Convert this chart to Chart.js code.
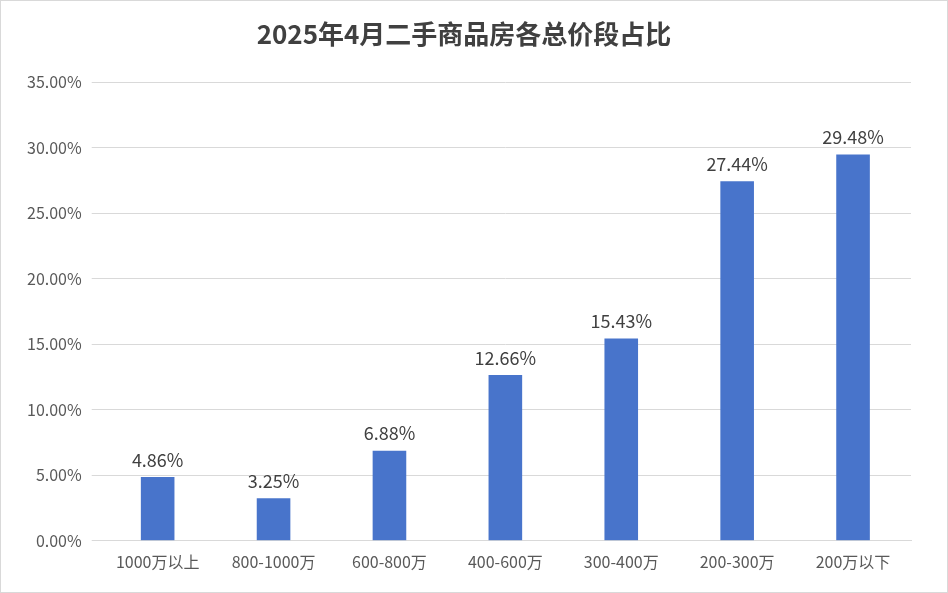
<!DOCTYPE html>
<html>
<head>
<meta charset="utf-8">
<script src="https://cdn.jsdelivr.net/npm/chart.js@4"></script>
<style>
  html, body { margin: 0; padding: 0; background: #fff; }
  #wrap { width: 946px; height: 591px; border: 1px solid #d9d9d9; }
</style>
</head>
<body>
<div id="wrap"><canvas id="c" width="946" height="591"></canvas></div>
<script>
const categories = ['1000万以上', '800-1000万', '600-800万', '400-600万', '300-400万', '200-300万', '200万以下'];
const shares = [4.86, 3.25, 6.88, 12.66, 15.43, 27.44, 29.48];

// étiquettes au-dessus des barres
const barLabels = {
  id: 'barLabels',
  afterDatasetsDraw(chart) {
    const ctx = chart.ctx;
    const meta = chart.getDatasetMeta(0);
    ctx.save();
    ctx.font = '18px "Noto Sans CJK SC", "Noto Sans", sans-serif';
    ctx.fillStyle = '#404040';
    ctx.textAlign = 'center';
    ctx.textBaseline = 'bottom';
    meta.data.forEach((bar, i) => {
      ctx.fillText(shares[i].toFixed(2) + '%', bar.x, bar.y - 8);
    });
    ctx.restore();
  }
};

new Chart(document.getElementById('c'), {
  type: 'bar',
  data: {
    labels: categories,
    datasets: [{
      data: shares,
      backgroundColor: '#4874cb',
      barPercentage: 0.29,
      categoryPercentage: 1
    }]
  },
  options: {
    responsive: false,
    animation: false,
    layout: { padding: { left: 16, right: 36, top: 0, bottom: 16 } },
    plugins: {
      legend: { display: false },
      tooltip: { enabled: false },
      title: {
        display: true,
        text: '2025年4月二手商品房各总价段占比',
        color: '#404040',
        font: { size: 26, weight: 'bold', family: '"Noto Sans CJK SC", sans-serif' },
        padding: { top: 18, bottom: 32 }
      }
    },
    scales: {
      x: {
        grid: { display: false },
        border: { color: '#d9d9d9' },
        ticks: { color: '#595959', font: { size: 16, family: '"Noto Sans CJK SC", sans-serif' }, padding: 4 }
      },
      y: {
        min: 0, max: 35,
        ticks: {
          stepSize: 5,
          color: '#595959',
          font: { size: 16, family: '"Noto Sans CJK SC", sans-serif' },
          padding: 10,
          callback: v => v.toFixed(2) + '%'
        },
        grid: { color: '#d9d9d9' },
        border: { display: false }
      }
    }
  },
  plugins: [barLabels]
});
</script>
</body>
</html>
